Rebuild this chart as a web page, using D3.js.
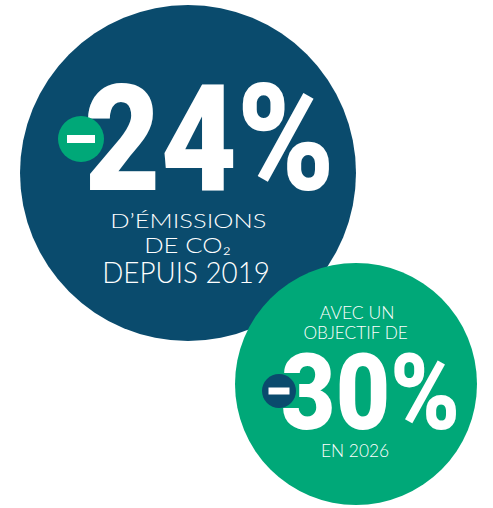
<!DOCTYPE html>
<html>
<head>
<meta charset="utf-8">
<script src="https://cdn.jsdelivr.net/npm/d3@7"></script>
<style>
  body { margin: 0; background: #fff; }
  svg { display: block; }
</style>
</head>
<body>
<div id="chart"></div>
<script>

// Données du visuel
var baisses = [24, 30];                       // pourcentages affichés
var legendes_haut = [[], ["AVEC UN", "OBJECTIF DE"]];
var legendes_bas = [["D’ÉMISSIONS", "DE CO₂", "DEPUIS 2019"], ["EN 2026"]];
var couleurs = ["#0a4b6d", "#00a878"];

var width = 493, height = 508;
var police_chiffre = "Roboto";
var police_texte = "Lato";

var svg = d3.select("#chart")
    .append("svg")
    .attr("width", width)
    .attr("height", height);

// canvas pour mesurer l'encre des textes
var ctx = document.createElement("canvas").getContext("2d");

// Fonction qui place un texte pour que son encre aille de x0 à x1, 
// avec le haut des majuscules à "haut" et la ligne de base à "base"
function place_texte(g, txt, famille, poids, x0, x1, haut, base, ref_hauteur) {

    ctx.font = poids + " 100px " + famille;
    var m = ctx.measureText(txt);
    var h = ctx.measureText(ref_hauteur || txt).actualBoundingBoxAscent;
    var fs = 100 * (base - haut) / h;

    var gauche = -m.actualBoundingBoxLeft * fs / 100;
    var droite = m.actualBoundingBoxRight * fs / 100;
    var sx = (x1 - x0) / (droite - gauche);

    g.append("text")
        .attr("transform", "translate(" + (x0 - gauche * sx) + "," + base + ") scale(" + sx + ",1)")
        .attr("x", 0)
        .attr("y", 0)
        .style("font-family", famille + ", sans-serif")
        .style("font-weight", poids)
        .style("font-size", fs + "px")
        .style("fill", "#fff")
        .text(txt);
}

// Fonction qui dessine une bulle avec son chiffre et ses lignes de texte
function create_bulle(i, cfg) {

    var g = svg.append("g").attr("class", "bulle_" + i);

    g.append("circle")
        .attr("cx", cfg.cx)
        .attr("cy", cfg.cy)
        .attr("r", cfg.r)
        .style("fill", couleurs[i]);

    // lignes au dessus du chiffre
    legendes_haut[i].forEach(function(d, j) {
        var b = cfg.haut[j];
        place_texte(g, d, police_texte, 300, b[0], b[1], b[2], b[3], "H");
    });

    // le gros chiffre
    var n = cfg.num;
    place_texte(g, baisses[i] + "%", police_chiffre, 900, n[0], n[1], n[2], n[3], "2");

    // le petit rond "moins" devant le chiffre
    var autre = couleurs[1 - i];
    g.append("circle")
        .attr("cx", cfg.moins.x)
        .attr("cy", cfg.moins.y)
        .attr("r", cfg.moins.r)
        .style("fill", autre);
    g.append("rect")
        .attr("x", cfg.moins.x - cfg.moins.bw / 2)
        .attr("y", cfg.moins.y - cfg.moins.bh / 2)
        .attr("width", cfg.moins.bw)
        .attr("height", cfg.moins.bh)
        .style("fill", "#fff");

    // lignes sous le chiffre
    legendes_bas[i].forEach(function(d, j) {
        var b = cfg.bas[j];
        place_texte(g, d, police_texte, 300, b[0], b[1], b[2], b[3], "H");
    });
}

function dessine() {
    // grosse bulle bleue
    create_bulle(0, {
        cx: 188, cy: 173, r: 168,
        num: [87, 329, 82.5, 190],
        moins: { x: 81, y: 139, r: 23, bw: 28, bh: 8 },
        haut: [],
        bas: [
            [112.7, 265, 214, 228.3],
            [146.7, 230, 238.5, 253.3],
            [105, 268, 261.7, 282.7]
        ]
    });

    // bulle verte
    create_bulle(1, {
        cx: 356, cy: 384, r: 121,
        num: [283, 456, 353, 429],
        moins: { x: 279, y: 391, r: 17, bw: 21, bh: 7 },
        haut: [
            [320, 392.7, 306, 319.3],
            [304.3, 407.3, 326.7, 339.3]
        ],
        bas: [
            [322.7, 388.3, 444, 456.7]
        ]
    });
}

if (document.fonts && document.fonts.load) {
    Promise.all([
        document.fonts.load("900 100px " + police_chiffre),
        document.fonts.load("300 100px " + police_texte)
    ]).then(dessine, dessine);
} else {
    dessine();
}

</script>
</body>
</html>
